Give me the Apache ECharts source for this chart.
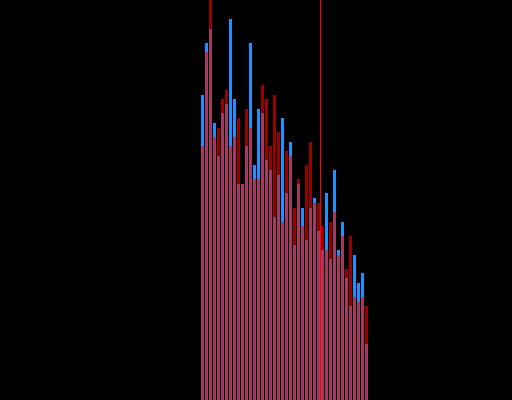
<!DOCTYPE html>
<html>
<head>
<meta charset="utf-8">
<script src="https://cdn.jsdelivr.net/npm/echarts@6/dist/echarts.min.js"></script>
<style>html,body{margin:0;padding:0;background:#000;}#c{width:512px;height:400px;}</style>
</head>
<body>
<div id="c"></div>
<script>
var positions = [0,1,2,3,4,5,6,7,8,9,10,11,12,13,14,15,16,17,18,19,20,21,22,23,24,25,26,27,28,29,30,31,32,33,34,35,36,37,38,39,40,41];
var blueValues = [305,357,371,277,244,287,296,381,301,216,216,254,357,235,291,287,240,230,183,225,282,207,258,155,216,192,160,192,202,169,150,207,141,230,150,178,122,94,145,117,127,56];
var redValues = [254,348,430,263,272,301,310,254,263,282,216,291,272,221,221,315,301,254,305,268,178,249,244,192,221,174,235,258,197,197,174,150,178,188,145,164,131,164,103,98,103,94];
var markerPosition = 29.5;

var chart = echarts.init(document.getElementById('c'), null, {renderer: 'canvas'});
chart.setOption({
  backgroundColor: '#000000',
  animation: false,
  grid: {left: 200.5, width: 168, top: 0, bottom: 0},
  xAxis: {type: 'value', min: -0.5, max: 41.5, show: false},
  yAxis: {type: 'value', min: 0, max: 400, show: false},
  series: [
    {
      type: 'bar', barWidth: 3, barGap: '-100%',
      data: positions.map(function(p, i){ return [p, blueValues[i]]; }),
      itemStyle: {color: '#1e90ff'},
      markLine: {
        silent: true, symbol: 'none', label: {show: false},
        lineStyle: {color: '#ff0000', width: 1, type: 'solid'},
        data: [{xAxis: markerPosition}]
      }
    },
    {
      type: 'bar', barWidth: 3, barGap: '-100%',
      data: positions.map(function(p, i){ return [p, redValues[i]]; }),
      itemStyle: {color: '#ff0000', opacity: 0.6}
    }
  ]
});
</script>
</body>
</html>
